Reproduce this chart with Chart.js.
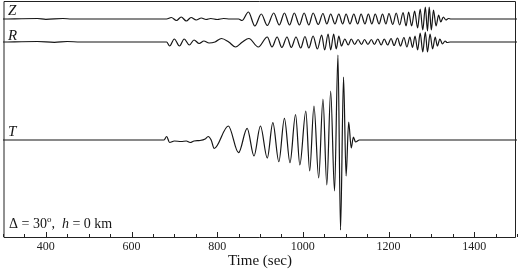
<!DOCTYPE html>
<html>
<head>
<meta charset="utf-8">
<script src="https://cdn.jsdelivr.net/npm/chart.js@4.4.1/dist/chart.umd.min.js"></script>
<style>
  html, body { margin: 0; padding: 0; background: #fff; }
  #wrap { width: 520px; height: 272px; }
</style>
</head>
<body>
<div id="wrap"><canvas id="c" width="520" height="272"></canvas></div>
<script>
// peaks / troughs (time in sec, amplitude in trace units)
const zTime = [300, 380, 400, 440, 460, 682, 693, 705, 716, 728, 739, 751, 763, 774, 785, 800, 815, 830, 850, 858,
  873, 888, 903, 917, 932, 945, 957, 969, 980, 992, 1003, 1014, 1024, 1036, 1047, 1056, 1065, 1075, 1084, 1093,
  1101, 1110, 1119, 1128, 1136, 1145, 1153, 1161, 1169, 1178, 1186, 1194, 1201, 1210, 1218, 1226, 1234, 1241,
  1247, 1254, 1261, 1268, 1274, 1280, 1286, 1291, 1295, 1300, 1305, 1311, 1317, 1322, 1328, 1334, 1340, 1346, 1500];
const zAmp = [0, 0.5, -0.3, 0.5, 0, 0, 1.5, -1.5, 2, -2, 1.5, -1, 1, -0.5, 0.5, -0.5, 0.5, 0, 0, -1.5,
  7, -7, 5, -6.5, 6, -6, 6, -6, 6, -6, 6, -6, 6, -5.5, 5.5, -5, 5, -5, 5, -5,
  5, -5, 5, -5, 5, -5, 5, -5, 5, -5, 5, -5, 5.5, -5.5, 6, -6, 6.5, -7,
  7, -7, 8, -9, 10, -11, 12, -12, 12, -11, 9, -7, 4, -3, 2, -1, 0.5, 0, 0];

const rTime = [300, 380, 420, 450, 480, 682, 689, 700, 712, 723, 735, 746, 758, 769, 781, 795, 810, 827, 843, 859,
  874, 896, 917, 928, 940, 951, 963, 973, 984, 995, 1005, 1014, 1024, 1034, 1044, 1051, 1059, 1065, 1072, 1078,
  1084, 1090, 1098, 1106, 1113, 1121, 1129, 1137, 1144, 1152, 1160, 1167, 1175, 1183, 1190, 1198, 1206, 1213,
  1221, 1228, 1236, 1243, 1250, 1256, 1262, 1268, 1274, 1280, 1286, 1291, 1297, 1303, 1309, 1314, 1320, 1326,
  1332, 1337, 1344, 1500];
const rAmp = [0, 0.5, -0.3, 0.5, 0, 0, -4, 3, -4, 3, -3, 2, -1.5, 1, -1, 0, 3.5, 0, -5, 0,
  3.5, -5, 5, -5, 5, -5.5, 5, -5.5, 5, -6, 5.5, -6, 6, -7, 7, -8, 8, -8, 8, -7,
  6, -4, 3, -3, 3, -2.5, 2.5, -2.5, 2.5, -2.5, 2.5, -2.5, 3, -3, 3, -3, 3.5, -3.5,
  4, -4, 4.5, -5, 5, -5.5, 6, -8, 9, -10, 10, -10, 8, -7, 5, -4, 3, -2,
  1, -0.5, 0, 0];

const tTime = [300, 676, 682, 689, 700, 716, 728, 737, 746, 760, 772, 779, 786, 793, 826, 850, 870, 886, 901, 917,
  930, 944, 957, 970, 983, 993, 1007, 1016, 1026, 1037, 1047, 1056, 1065, 1074, 1082, 1088, 1095, 1101, 1107, 1113,
  1118, 1123, 1132, 1500];
const tAmp = [0, 0, 3.5, -2.5, -1, -1.5, -1, -2.5, -1, -0.5, 1, 3.5, 0, -8.5, 14, -12.7, 11.7, -16, 14, -18,
  17.3, -21.7, 21.7, -22.7, 25.5, -25, 29, -31, 34, -38, 41, -45, 49, -51, 85, -90, 63, -36, 18, -8,
  3, -2, 0, 0];

const xLabelTicks = [400, 600, 800, 1000, 1200, 1400];

const serif = '"Liberation Serif", "DejaVu Serif", serif';
const ink = '#151515';

function pts(ts, as) {
  return ts.map((t, i) => ({ x: t, y: as[i] }));
}

function trace(label, ts, as, axis) {
  return {
    label: label,
    data: pts(ts, as),
    yAxisID: axis,
    borderColor: ink,
    borderWidth: 1.2,
    pointRadius: 0,
    fill: false,
    cubicInterpolationMode: 'monotone'
  };
}

// frame, inward tick marks and the text inside the plot
const decor = {
  id: 'decor',
  afterDraw(chart) {
    const { ctx, chartArea: a, scales } = chart;
    const x = scales.x;
    ctx.save();
    ctx.strokeStyle = '#222';
    ctx.lineWidth = 1;
    ctx.beginPath();
    ctx.moveTo(a.left + 1, a.top + 0.5);
    ctx.lineTo(a.right - 1.5, a.top + 0.5);
    ctx.lineTo(a.right - 1.5, a.bottom + 0.5);
    ctx.lineTo(a.left + 1, a.bottom + 0.5);
    ctx.closePath();
    ctx.stroke();

    x.ticks.forEach(t => {
      const px = Math.round(x.getPixelForValue(t.value)) + 0.5;
      const len = xLabelTicks.includes(t.value) ? 5 : 3;
      ctx.beginPath();
      ctx.moveTo(px, a.bottom);
      ctx.lineTo(px, a.bottom - len);
      ctx.stroke();
    });

    ctx.fillStyle = ink;
    ctx.textBaseline = 'alphabetic';
    ctx.font = 'italic 15px ' + serif;
    [['Z', 'yZ', 4], ['R', 'yR', 2], ['T', 'yT', 4]].forEach(([n, id, off]) => {
      ctx.fillText(n, a.left + 5, scales[id].getPixelForValue(0) - off);
    });

    // Δ = 30°,  h = 0 km
    let cx = a.left + 6;
    const by = a.bottom - 9;
    const put = (s, font, dy) => {
      ctx.font = font;
      ctx.fillText(s, cx, by + (dy || 0));
      cx += ctx.measureText(s).width;
    };
    put('\u0394 = 30', '14px ' + serif);
    put('o', '9px ' + serif, -6);
    put(',  ', '14px ' + serif);
    put('h', 'italic 14px ' + serif);
    put(' = 0 km', '14px ' + serif);
    ctx.restore();
  }
};

new Chart(document.getElementById('c').getContext('2d'), {
  type: 'line',
  data: {
    datasets: [
      trace('Z', zTime, zAmp, 'yZ'),
      trace('R', rTime, rAmp, 'yR'),
      trace('T', tTime, tAmp, 'yT')
    ]
  },
  options: {
    responsive: false,
    animation: false,
    layout: { padding: { left: 0, right: 0, top: 1, bottom: 0 } },
    plugins: { legend: { display: false }, tooltip: { enabled: false } },
    scales: {
      x: {
        type: 'linear',
        min: 300,
        max: 1500,
        grid: { display: false, drawTicks: false },
        border: { display: false },
        ticks: {
          stepSize: 50,
          autoSkip: false,
          maxRotation: 0,
          padding: 3,
          color: '#222',
          font: { family: serif, size: 12 },
          callback: v => xLabelTicks.includes(v) ? String(v) : ''
        },
        title: {
          display: true,
          text: 'Time (sec)',
          color: ink,
          font: { family: serif, size: 15 },
          padding: { top: 0, bottom: 2 }
        },
        afterFit: s => { s.height = 35; }
      },
      yZ: { display: false, min: -218, max: 18 },
      yR: { display: false, min: -195, max: 41 },
      yT: { display: false, min: -97, max: 139 }
    }
  },
  plugins: [decor]
});
</script>
</body>
</html>
